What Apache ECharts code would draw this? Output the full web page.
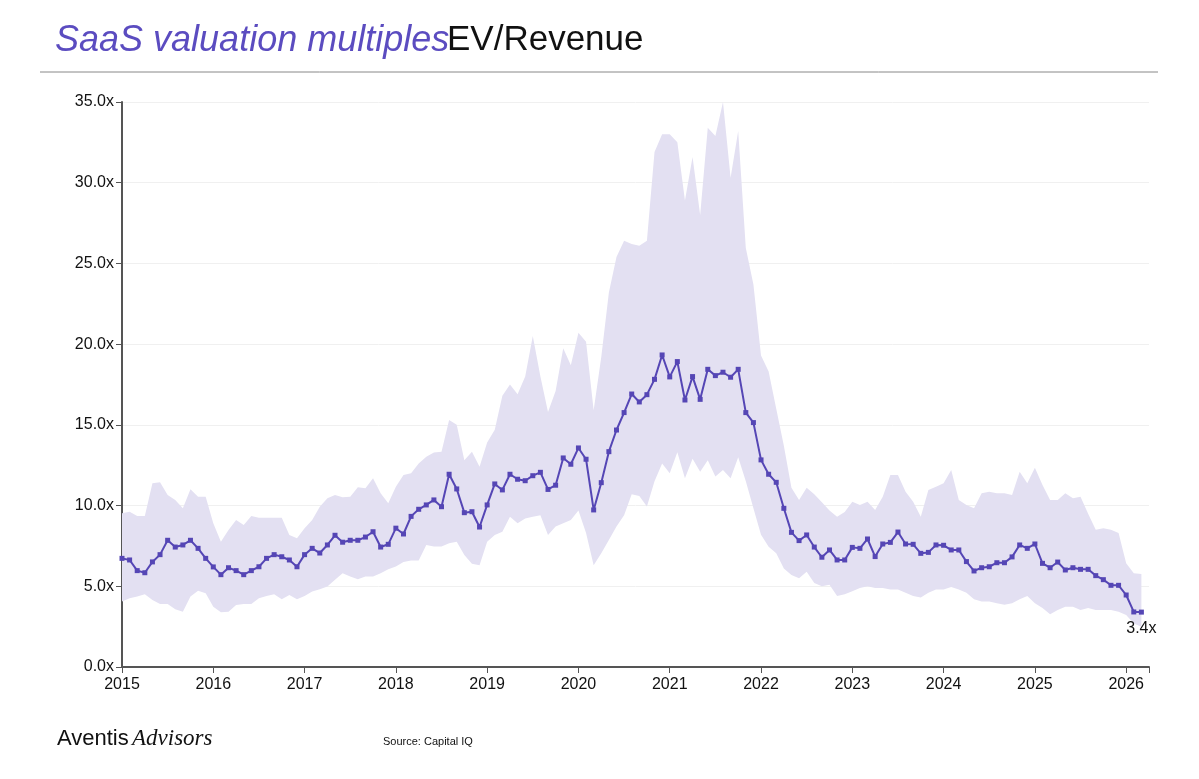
<!DOCTYPE html>
<html><head><meta charset="utf-8">
<script src="https://cdn.jsdelivr.net/npm/echarts@6/dist/echarts.min.js"></script>
<style>html,body{margin:0;padding:0;background:#fff}#c{width:1199px;height:779px}</style>
</head><body><div id="c"></div>
<script>
const startYear = 2015;
const median = [6.73,6.63,5.97,5.84,6.51,6.96,7.85,7.43,7.56,7.85,7.35,6.73,
6.2,5.72,6.15,5.97,5.72,5.97,6.21,6.73,6.96,6.83,6.63,6.21,
6.96,7.35,7.06,7.56,8.16,7.73,7.85,7.85,8.05,8.38,7.43,7.6,
8.6,8.24,9.33,9.77,10.04,10.35,9.93,11.94,11.03,9.56,9.62,8.67,
10.04,11.34,10.97,11.94,11.63,11.54,11.85,12.06,11.0,11.26,12.95,12.56,
13.57,12.87,9.73,11.42,13.34,14.68,15.76,16.91,16.42,16.87,17.82,19.33,
17.97,18.92,16.54,17.99,16.58,18.44,18.05,18.26,17.95,18.44,15.76,15.14,
12.83,11.94,11.44,9.83,8.34,7.83,8.18,7.43,6.80,7.25,6.63,6.63,
7.41,7.35,7.93,6.84,7.62,7.72,8.36,7.62,7.6,7.04,7.1,7.56,
7.54,7.25,7.25,6.53,5.95,6.15,6.21,6.46,6.46,6.82,7.56,7.35,
7.62,6.42,6.15,6.5,6.01,6.15,6.05,6.05,5.66,5.41,5.06,5.06,
4.46,3.41,3.4];
const upper = [9.52,9.62,9.36,9.36,11.38,11.44,10.66,10.35,9.83,11.01,10.55,10.55,
8.9,7.76,8.49,9.11,8.8,9.36,9.25,9.25,9.25,9.25,8.18,7.97,
8.6,9.11,9.93,10.45,10.66,10.51,10.55,11.13,11.07,11.69,10.76,10.14,
11.17,11.9,12.0,12.6,13.03,13.28,13.34,15.3,15.0,12.8,13.34,12.4,
13.9,14.7,16.8,17.5,16.9,18.0,20.5,18.0,15.8,17.1,19.75,18.7,
20.7,20.15,15.9,19.2,23.2,25.4,26.4,26.2,26.1,26.4,31.9,33.0,
33.0,32.5,28.9,31.6,28.0,33.4,32.9,35.0,30.3,33.2,25.95,23.7,
19.3,18.3,16.0,13.7,11.1,10.35,11.1,10.7,10.2,9.7,9.3,9.6,
10.24,10.04,10.24,9.73,10.55,11.9,11.9,10.86,10.24,9.3,10.97,11.17,
11.38,12.2,10.34,10.04,9.83,10.76,10.86,10.76,10.76,10.66,12.1,11.38,
12.35,11.28,10.34,10.34,10.76,10.45,10.55,9.5,8.5,8.6,8.5,8.3,
6.43,5.8,5.76];
const lower = [4.05,4.26,4.36,4.5,4.15,3.9,3.9,3.57,3.43,4.36,4.73,4.57,
3.74,3.39,3.43,3.84,3.9,3.9,4.26,4.4,4.5,4.19,4.46,4.19,
4.4,4.67,4.81,4.98,5.4,5.81,5.6,5.43,5.6,5.6,5.81,6.06,
6.22,6.5,6.6,6.6,7.56,7.46,7.46,7.66,7.76,6.94,6.4,6.3,
7.76,8.17,8.38,9.3,8.9,9.2,9.3,9.4,8.17,8.7,8.9,9.1,
9.7,8.3,6.3,7.04,7.87,8.7,9.4,10.7,10.6,9.95,11.5,12.6,
12.0,13.3,11.7,12.9,12.1,12.8,11.8,12.2,11.7,13.0,11.5,9.83,
8.2,7.45,7.05,6.1,5.7,5.5,5.9,5.2,5.0,5.1,4.4,4.5,
4.7,4.9,5.0,4.9,4.9,4.8,4.8,4.6,4.4,4.3,4.6,4.8,
4.8,4.95,4.8,4.6,4.2,4.05,4.05,3.95,3.85,3.95,4.2,4.4,
3.95,3.65,3.27,3.53,3.74,3.74,3.53,3.65,3.53,3.53,3.53,3.43,
3.22,2.7,2.5];

const xs = median.map((_, i) => startYear + i / 12);
const pair = arr => arr.map((v, i) => [xs[i], v]);
const bandData = xs.map((x, i) => [x, lower[i], upper[i]]);
const purple = '#5546b5';

const chart = echarts.init(document.getElementById('c'));
chart.setOption({
  animation: false,
  graphic: [
    { type: 'text', left: 55, top: 23, style: { text: 'SaaS valuation multiples', font: 'italic 36px "Liberation Sans", Arial', fill: '#5b4cc0' } },
    { type: 'text', left: 447, top: 23, style: { text: 'EV/Revenue', font: '35px "Liberation Sans", Arial', fill: '#111' } },
    { type: 'line', shape: { x1: 40, y1: 72, x2: 1158, y2: 72 }, style: { stroke: '#888', lineWidth: 1 } },
    { type: 'text', left: 57, top: 728, style: { text: 'Aventis', font: '22px "Liberation Sans", Arial', fill: '#111' } },
    { type: 'text', left: 132, top: 727, style: { text: 'Advisors', font: 'italic 23px "Liberation Serif", serif', fill: '#111' } },
    { type: 'text', left: 383, top: 736, style: { text: 'Source: Capital IQ', font: '11px "Liberation Sans", Arial', fill: '#111' } }
  ],
  grid: { left: 122, right: 50, top: 102, bottom: 112 },
  xAxis: {
    type: 'value', min: 2015, max: 2026.25, interval: 1,
    axisLine: { lineStyle: { color: '#555', width: 2 } },
    axisTick: { show: true, length: 6, lineStyle: { color: '#555' } },
    axisLabel: { color: '#111', fontSize: 16, fontFamily: 'Liberation Sans', margin: 10,
      formatter: v => Number.isInteger(v) ? String(v) : '' },
    splitLine: { show: false }
  },
  yAxis: {
    type: 'value', min: 0, max: 35, interval: 5,
    axisLine: { show: true, lineStyle: { color: '#555', width: 2 } },
    axisTick: { show: true, length: 6, lineStyle: { color: '#555' } },
    axisLabel: { color: '#111', fontSize: 16, fontFamily: 'Liberation Sans', formatter: v => v.toFixed(1) + 'x' },
    splitLine: { lineStyle: { color: '#f0f0f0' } }
  },
  series: [
    { type: 'custom', data: bandData, silent: true, z: 1,
      encode: { x: 0, y: [1, 2] },
      renderItem: (params, api) => {
        if (params.dataIndex !== 0) return null;
        const top = bandData.map(d => api.coord([d[0], d[2]]));
        const bot = bandData.map(d => api.coord([d[0], d[1]])).reverse();
        return { type: 'polygon', shape: { points: top.concat(bot) }, style: { fill: '#e3e0f2' } };
      } },
    { type: 'line', data: pair(median), symbol: 'rect', symbolSize: 5, showAllSymbol: true, z: 3,
      lineStyle: { color: purple, width: 2 }, itemStyle: { color: purple },
      label: { show: true, position: 'bottom', distance: 6, fontSize: 16, color: '#111', fontFamily: 'Liberation Sans',
        formatter: p => p.dataIndex === median.length - 1 ? p.value[1].toFixed(1) + 'x' : '' } }
  ]
});
</script></body></html>
